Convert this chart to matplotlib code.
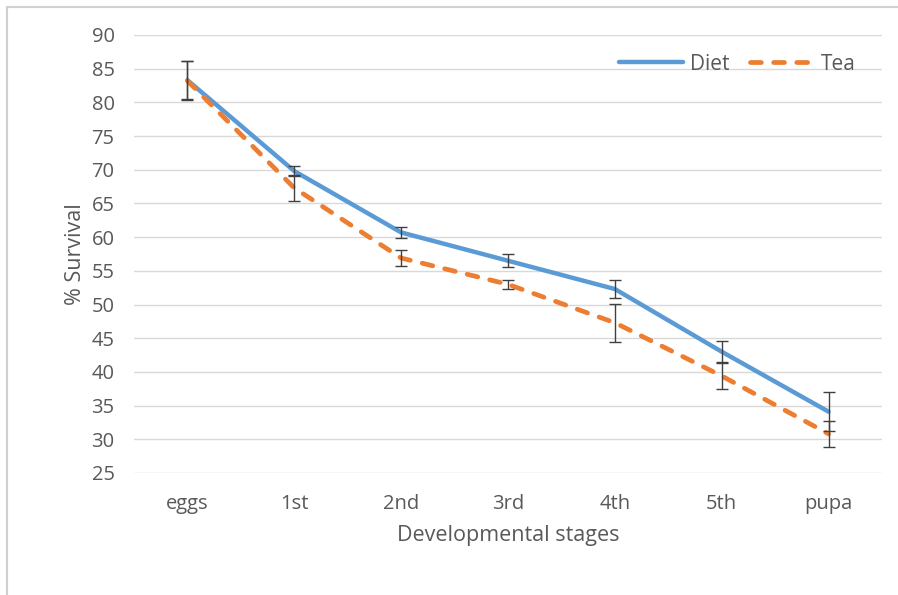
import matplotlib
matplotlib.use("Agg")
import matplotlib.pyplot as plt
from matplotlib.patches import Rectangle
import numpy as np

stages = ["eggs", "1st", "2nd", "3rd", "4th", "5th", "pupa"]
diet = [83.3, 69.8, 60.7, 56.5, 52.3, 43.0, 34.1]
diet_err = [2.8, 0.75, 0.85, 1.0, 1.3, 1.55, 2.9]
tea = [83.2, 67.3, 56.9, 53.0, 47.3, 39.4, 30.8]
tea_err = [2.9, 1.9, 1.2, 0.67, 2.8, 1.95, 1.9]
yticks = list(range(25, 95, 5))

plt.rcParams['font.family'] = ['Open Sans', 'DejaVu Sans']
text_col = '#595959'

fig = plt.figure(figsize=(8.98, 5.95), dpi=100)
ax = fig.add_axes([134/898, 1 - 473/595, (882-134)/898, (473-35)/595])

x = np.arange(len(stages))
ax.errorbar(x, diet, yerr=diet_err, fmt='none', ecolor='#404040', elinewidth=1.0,
            capsize=4.5, capthick=1.0, zorder=4)
ax.errorbar(x, tea, yerr=tea_err, fmt='none', ecolor='#404040', elinewidth=1.0,
            capsize=4.5, capthick=1.0, zorder=4)
ax.plot(x, diet, color='#5B9BD5', lw=3.2, solid_capstyle='round', label='Diet', zorder=3)
ax.plot(x, tea, color='#ED7D31', lw=3.4, dashes=(2.3, 2.6), dash_capstyle='round',
        label='Tea', zorder=3)

ax.set_xlim(-0.5, len(stages) - 0.5)
ax.set_ylim(25, 90)
ax.set_yticks(yticks)
ax.set_xticks(x)
ax.set_xticklabels(stages)
ax.yaxis.grid(True, color='#D9D9D9', lw=1.0)
ax.set_axisbelow(True)
for s in ax.spines.values():
    s.set_visible(False)
ax.tick_params(axis='both', length=0, labelsize=14.5, colors=text_col)
ax.tick_params(axis='y', pad=14)
ax.tick_params(axis='x', pad=15)
ax.set_ylabel('% Survival', fontsize=15.5, color=text_col, labelpad=4)
ax.set_xlabel('Developmental stages', fontsize=15.5, color=text_col, labelpad=8)

leg = ax.legend(loc='upper right', bbox_to_anchor=(0.99, 1.0), ncol=2, frameon=False,
                fontsize=15, handlelength=3.1, columnspacing=1.0, handletextpad=0.3)
for t in leg.get_texts():
    t.set_color(text_col)

fig.patches.append(Rectangle((7/898, -0.1), 1.2, 1 - 7/595 + 0.1, transform=fig.transFigure,
                             fill=False, edgecolor='#D0D0D0', lw=1.5))

fig.savefig('out.png', dpi=100)
